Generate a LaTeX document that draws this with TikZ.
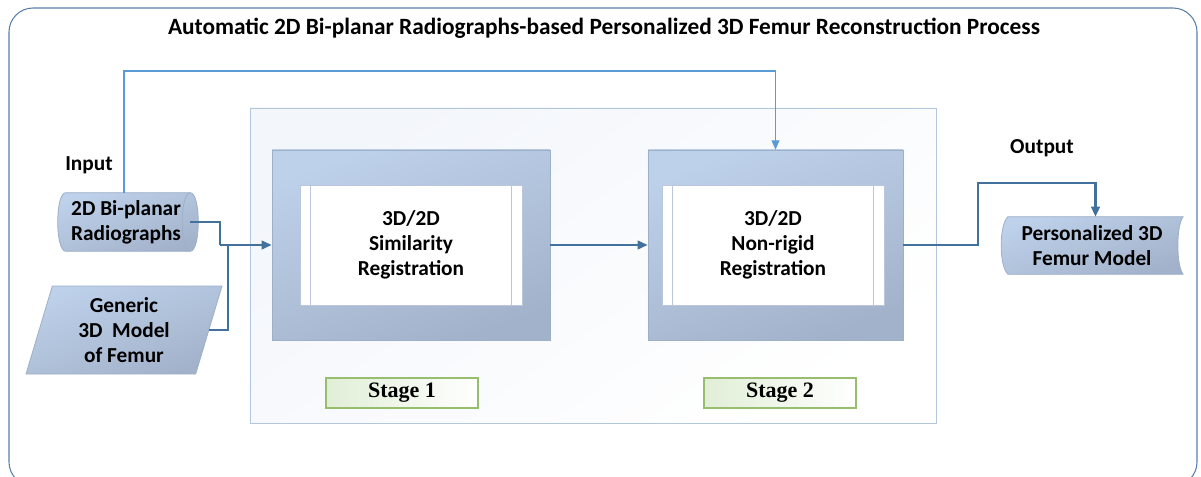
\documentclass[tikz,border=0pt]{standalone}
\usepackage{fontspec}
\setmainfont{Carlito}
\newfontfamily\tagserif{Liberation Serif}
\usetikzlibrary{arrows.meta,shapes.geometric,calc}

\definecolor{flowblue}{RGB}{65,113,156}
\definecolor{loopblue}{RGB}{91,155,213}
\definecolor{boxtop}{RGB}{190,209,234}
\definecolor{boxbot}{RGB}{163,178,203}
\definecolor{boxline}{RGB}{158,175,200}
\definecolor{innerline}{RGB}{185,198,220}
\definecolor{panelline}{RGB}{178,198,222}
\definecolor{panelfill}{RGB}{243,246,251}
\definecolor{tagline}{RGB}{150,190,110}
\definecolor{tagfill}{RGB}{225,238,215}
\definecolor{framecol}{RGB}{90,128,170}

\tikzset{
  bodytext/.style={font=\bfseries\fontsize{16}{18.75}\selectfont, align=center, text=black},
  shapefill/.style={draw=boxline, line width=0.6pt, top color=boxtop, bottom color=boxbot, shading angle=20},
  stagebox/.style={shapefill, rectangle, inner sep=0pt},
  innerbox/.style={rectangle, fill=white, draw=innerline, line width=0.5pt, inner sep=0pt,
    minimum width=166.5pt, minimum height=90pt, bodytext},
  tagbox/.style={rectangle, draw=tagline, line width=0.8pt, left color=tagfill, right color=white,
    minimum width=114pt, minimum height=22.5pt, inner sep=0pt, font=\tagserif\bfseries\fontsize{16.5}{18}\selectfont},
  flowline/.style={draw=flowblue, line width=1.6pt, -{Triangle[length=7.5pt,width=6.5pt]}},
  loopline/.style={draw=loopblue, line width=0.8pt, -{Triangle[length=7pt,width=6pt]}},
}

\begin{document}
\begin{tikzpicture}[x=0.75pt,y=0.75pt,yscale=-1,xscale=1]
\useasboundingbox (0,0) rectangle (1201,477);

%Frame
\draw [framecol, line width=0.8pt, rounded corners=18pt] (9,8) rectangle (1197,486);

% Text Node
\draw (604,28) node [font=\bfseries\fontsize{17.5}{20}\selectfont] (title) {Automatic 2D Bi-planar Radiographs-based Personalized 3D Femur Reconstruction Process};

%Panel
\draw [draw=panelline, line width=0.6pt, top color=panelfill, bottom color=white, shading angle=35] (250,108) rectangle (936,423);

%Stage boxes
\draw (411,245) node [stagebox, minimum width=208.5pt, minimum height=142.5pt] (stageA) {};
\draw (411,245) node [innerbox] (innerA) {3D/2D\\Similarity\\Registration};
\draw [innerline, line width=0.5pt] ([xshift=8.25pt]innerA.north west) -- ([xshift=8.25pt]innerA.south west);
\draw [innerline, line width=0.5pt] ([xshift=-8.25pt]innerA.north east) -- ([xshift=-8.25pt]innerA.south east);

\draw (775.5,245) node [stagebox, minimum width=191.25pt, minimum height=142.5pt] (stageB) {};
\draw (773,245) node [innerbox] (innerB) {3D/2D\\Non-rigid\\Registration};
\draw [innerline, line width=0.5pt] ([xshift=8.25pt]innerB.north west) -- ([xshift=8.25pt]innerB.south west);
\draw [innerline, line width=0.5pt] ([xshift=-8.25pt]innerB.north east) -- ([xshift=-8.25pt]innerB.south east);

% Stage tags
\draw (402,393) node [tagbox] (tagA) {Stage 1};
\draw (780,393) node [tagbox] (tagB) {Stage 2};

% Inputs
\draw (89,165) node [bodytext] (inlabel) {Input};
\draw (128,222) node [minimum width=93pt, minimum height=43.5pt, inner sep=0pt] (radio) {};
\draw [shapefill] (radio.north west) -- (radio.north east)
  .. controls ($(radio.north east)+(10.7,0)$) and ($(radio.south east)+(10.7,0)$) .. (radio.south east)
  -- (radio.south west)
  .. controls ($(radio.south west)+(-10.7,0)$) and ($(radio.north west)+(-10.7,0)$) .. (radio.north west) -- cycle;
\draw [boxline, line width=0.6pt] (radio.north east) .. controls ($(radio.north east)+(-10.7,0)$) and ($(radio.south east)+(-10.7,0)$) .. (radio.south east);
\draw (126,222) node [bodytext] (radiotext) {2D Bi-planar\\Radiographs};
\draw (124,330) node [trapezium, trapezium left angle=68, trapezium right angle=112, trapezium stretches body, shapefill,
  minimum width=147pt, minimum height=66pt, inner sep=0pt, bodytext] (generic) {Generic\\3D\ \ Model\\of Femur};

% Output
\draw (1042,148) node [bodytext] (outlabel) {Output};
\draw (1095.5,245.5) node [minimum width=131pt, minimum height=42.75pt, inner sep=0pt] (femur) {};
\draw [shapefill] (femur.north west) .. controls ($(femur.north west)+(-9,8)$) and ($(femur.south west)+(-9,-8)$) .. (femur.south west)
  -- (femur.south east) .. controls ($(femur.south east)+(-7,-9)$) and ($(femur.north east)+(-7,9)$) .. (femur.north east) -- cycle;
\draw (1092,245.5) node [bodytext] (femurtext) {Personalized 3D\\Femur Model};

% Connectors
\coordinate (mergeA) at (220,245);
\coordinate (mergeB) at (228,245);
\draw [loopline] ([xshift=-3pt]radio.north) |- (stageB.north |- 0,71) -- (stageB.north);
\draw [flowline, -] (radio.east) -| (mergeA);
\draw [flowline, -] (generic.east) -| (mergeB);
\draw [flowline] (mergeA) -- (stageA.west);
\draw [flowline] (stageA.east) -- (stageB.west);
\draw [flowline] (stageB.east) -| (978,183) -| (femur.north);

\end{tikzpicture}
\end{document}
